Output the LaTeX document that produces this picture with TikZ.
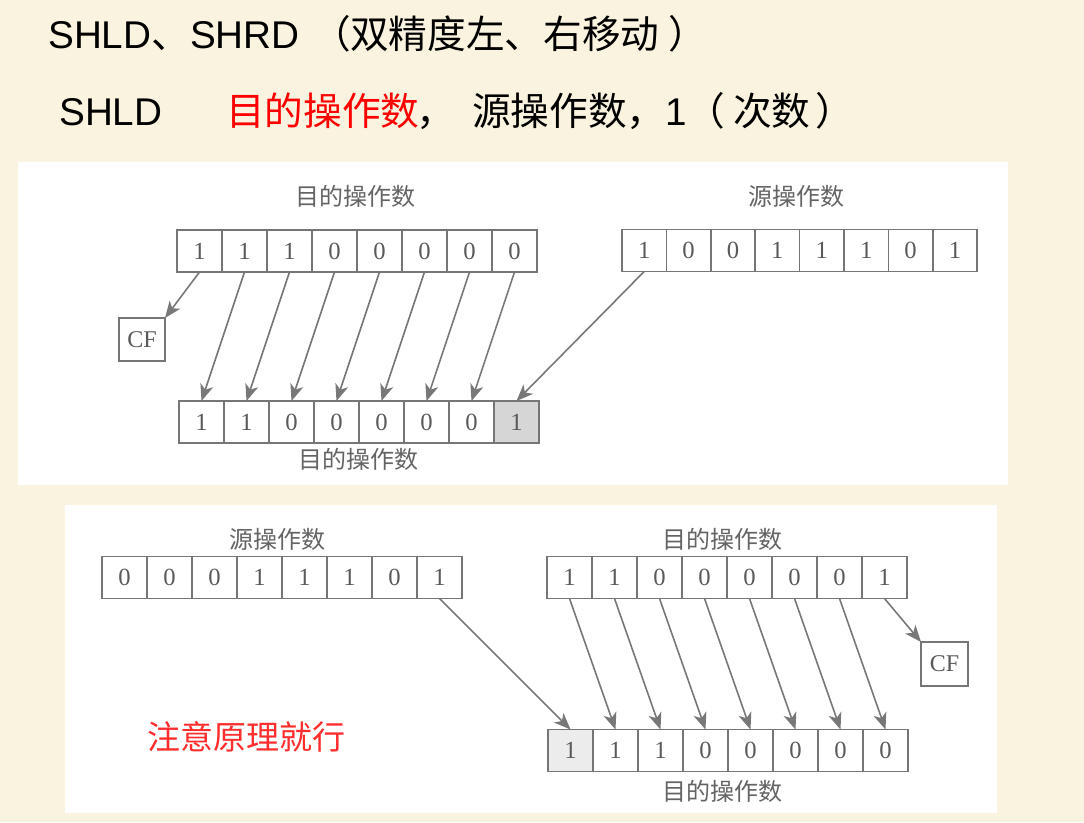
\documentclass[tikz,border=0pt]{standalone}
\usepackage{fontspec}
\setmainfont{Liberation Sans}
\newfontfamily\cjk{Noto Sans CJK SC}
\newfontfamily\tms{Liberation Serif}
\usetikzlibrary{arrows.meta}
\definecolor{cream}{RGB}{250,243,224}
\definecolor{boxline}{RGB}{118,118,118}
\definecolor{digit}{RGB}{90,90,90}
\definecolor{labgray}{RGB}{100,100,100}
\definecolor{arrowgray}{RGB}{120,120,120}
\definecolor{notered}{RGB}{255,45,45}
\definecolor{shadeA}{RGB}{214,214,214}
\definecolor{shadeB}{RGB}{236,236,236}
\tikzset{
  cell/.style={draw=boxline, line width=1.1pt, minimum width=33.75pt, minimum height=31.5pt,
    inner sep=0pt, outer sep=0pt, font=\tms\fontsize{18.5}{18.5}\selectfont, text=digit},
  cfbox/.style={draw=boxline, line width=1.1pt, inner sep=0pt, outer sep=0pt,
    font=\tms\fontsize{18}{18}\selectfont, text=digit},
  lab/.style={font=\cjk\fontsize{18}{18}\selectfont, text=labgray, inner sep=0pt},
  mv/.style={draw=arrowgray, line width=1.2pt, -{Stealth[length=12.5pt,width=10pt,inset=3.5pt]}},
  head/.style={anchor=base west, inner sep=0pt, font=\fontsize{29}{30}\selectfont},
}
\begin{document}
\begin{tikzpicture}[x=0.75pt,y=-0.75pt]
\useasboundingbox (0,0) rectangle (1084,822);
\fill[cream] (0,0) rectangle (1084,822);
% panels
\fill[white] (18,162) rectangle (1008,485);
\fill[white] (65,505) rectangle (997,813);

% headings
\node[head] (h1a) at (48,48) {SHLD{\cjk 、}SHRD};
\node[head] (h1p) at (312,48) {\cjk （};
\node[head] (h1b) at (350,48) {\cjk 双精度左、右移动};
\node[head] (h1q) at (668,48) {\cjk ）};
\node[head] (h2a) at (59,125) {SHLD};
\node[head, text=red] (h2b) at (226,125) {\cjk 目的操作数};
\node[head] (h2c) at (416,125) {\cjk ，};
\node[head] (h2d) at (472,125) {{\cjk 源操作数，}1};
\node[head] (h2p) at (686,125) {\cjk （};
\node[head] (h2e) at (733,125) {\cjk 次数};
\node[head] (h2q) at (815,125) {\cjk ）};

% ---------- panel 1 ----------
\node[lab] (l1a) at (355,196) {目的操作数};
\node[lab] (l1b) at (796,196) {源操作数};
\node[lab] (l1c) at (358,459) {目的操作数};
\foreach \v [count=\i] in {1,1,1,0,0,0,0,0}
  \node[cell] (p1t\i) at ({177+45*(\i-0.5)},251) {\v};
\foreach \v [count=\i] in {1,0,0,1,1,1,0,1}
  \node[cell, minimum width=33.3pt] (p1s\i) at ({622+44.4*(\i-0.5)},250.5) {\v};
\foreach \v/\f [count=\i] in {1/white,1/white,0/white,0/white,0/white,0/white,0/white,1/shadeA}
  \node[cell, fill=\f] (p1b\i) at ({179+45*(\i-0.5)},422) {\v};
\node[cfbox, minimum width=34.5pt, minimum height=32.25pt] (cf1) at (142,339.5) {CF};

\foreach \i/\j in {2/1,3/2,4/3,5/4,6/5,7/6,8/7}
  \draw[mv] (p1t\i.south) -- (p1b\j.north);
\draw[mv] (p1t1.south) -- (cf1.north east);
\draw[mv] (p1s1.south) -- (p1b8.north);

% ---------- panel 2 ----------
\node[lab] (l2a) at (277,539) {源操作数};
\node[lab] (l2b) at (722,539) {目的操作数};
\node[lab] (l2c) at (722,791) {目的操作数};
\foreach \v [count=\i] in {0,0,0,1,1,1,0,1}
  \node[cell] (p2s\i) at ({102+45*(\i-0.5)},577.5) {\v};
\foreach \v [count=\i] in {1,1,0,0,0,0,0,1}
  \node[cell] (p2t\i) at ({547+45*(\i-0.5)},577.5) {\v};
\foreach \v/\f [count=\i] in {1/shadeB,1/white,1/white,0/white,0/white,0/white,0/white,0/white}
  \node[cell, fill=\f] (p2b\i) at ({548+45*(\i-0.5)},750.5) {\v};
\node[cfbox, minimum width=35.25pt, minimum height=33pt] (cf2) at (944.5,664) {CF};

\foreach \i/\j in {1/2,2/3,3/4,4/5,5/6,6/7,7/8}
  \draw[mv] (p2t\i.south) -- (p2b\j.north);
\draw[mv] (p2t8.south) -- (cf2.north west);
\draw[mv] (p2s8.south) -- (p2b1.north);

\node[anchor=west, inner sep=0pt, font=\cjk\fontsize{24.75}{25}\selectfont, text=notered] (note) at (147,737) {注意原理就行};
\end{tikzpicture}
\end{document}
